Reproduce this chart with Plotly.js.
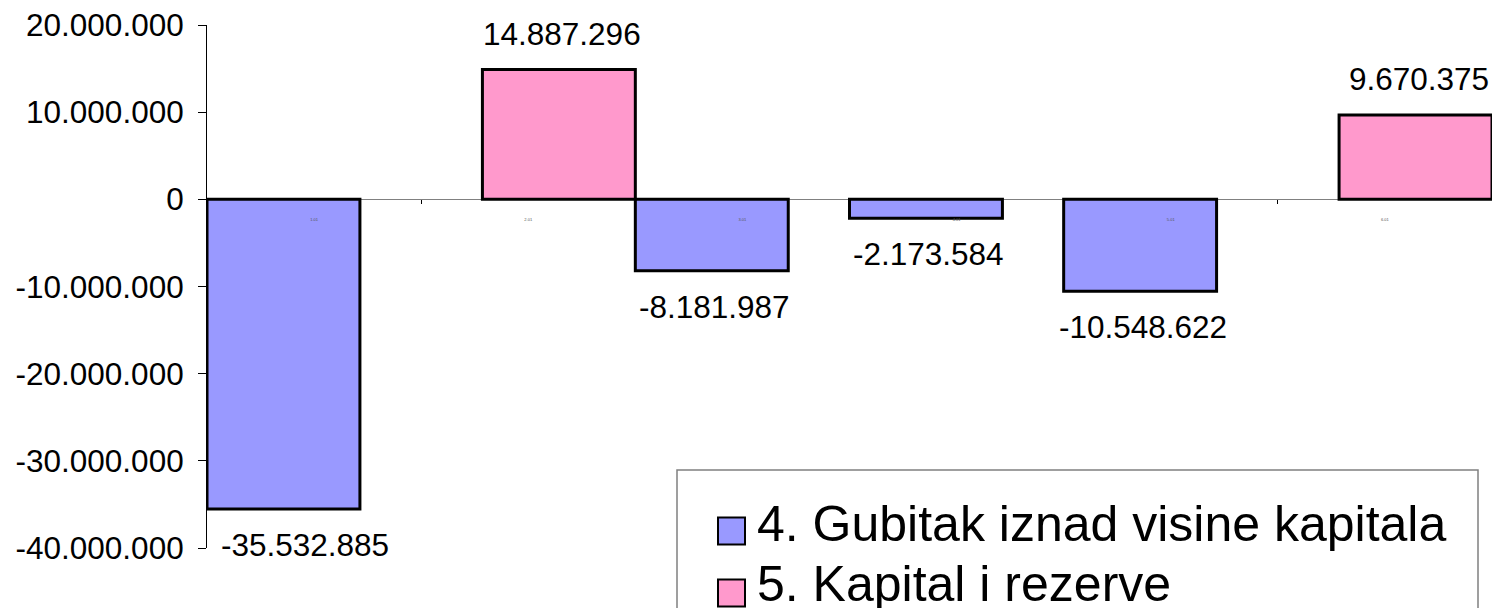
<!DOCTYPE html>
<html>
<head>
<meta charset="utf-8">
<script src="https://cdn.plot.ly/plotly-3.0.1.min.js"></script>
<style>
  html, body { margin: 0; padding: 0; background: #ffffff; }
  #chart { width: 1492px; height: 608px; }
</style>
</head>
<body>
<div id="chart"></div>
<script>
// ---- data ----
const categories = ['1.01', '2.01', '3.01', '4.01', '5.01', '6.01'];
const seriesNames = ['4. Gubitak iznad visine kapitala', '5. Kapital i rezerve'];
const gubitak = [-35532885, null, -8181987, -2173584, -10548622, null];
const kapital = [null, 14887296, null, null, null, 9670375];
const yTickVals = [-40000000, -30000000, -20000000, -10000000, 0, 10000000, 20000000];

// ---- helpers ----
function fmt(v) {
  const s = Math.abs(v).toString().replace(/\B(?=(\d{3})+(?!\d))/g, '.');
  return (v < 0 ? '-' : '') + s;
}
const FONT = 'Liberation Sans, Arial, sans-serif';
const L = 207, R = 1492, T = 25, B = 548;
const px = x => (x - L) / (R - L);
const py = y => (B - y) / (B - T);

const barW = 0.714;
const offBlue = -0.5;
const offPink = 0.5 - barW;

const traces = [
  {
    type: 'bar', name: seriesNames[0], x: categories, y: gubitak,
    width: barW, offset: offBlue,
    marker: { color: '#9999FF', line: { color: '#000000', width: 3 } },
    hoverinfo: 'skip', showlegend: false
  },
  {
    type: 'bar', name: seriesNames[1], x: categories, y: kapital,
    width: barW, offset: offPink,
    marker: { color: '#FF99CC', line: { color: '#000000', width: 3 } },
    hoverinfo: 'skip', showlegend: false
  }
];

const annotations = [];
[[gubitak, offBlue], [kapital, offPink]].forEach(([arr, off]) => {
  arr.forEach((v, i) => {
    if (v === null) return;
    annotations.push({
      x: i + off + barW / 2, y: v, xref: 'x', yref: 'y',
      text: fmt(v), showarrow: false,
      xanchor: 'center', yanchor: 'middle',
      xshift: i === 0 ? 22 : 3,
      yshift: v >= 0 ? 36 : -36,
      font: { family: FONT, size: 31.5, color: '#000000' }
    });
  });
});

// legend (drawn manually to match the large symbols)
const legRows = [
  { name: seriesNames[0], color: '#9999FF', sq: 531, ty: 524 },
  { name: seriesNames[1], color: '#FF99CC', sq: 593, ty: 584 }
];
const shapes = [
  {
    type: 'rect', xref: 'paper', yref: 'paper',
    x0: px(677), x1: px(1478), y0: py(660), y1: py(470),
    fillcolor: '#ffffff', line: { color: '#808080', width: 1.5 }, layer: 'above'
  }
];
legRows.forEach(r => {
  shapes.push({
    type: 'rect', xref: 'paper', yref: 'paper',
    x0: px(718), x1: px(745), y0: py(r.sq + 13.5), y1: py(r.sq - 13.5),
    fillcolor: r.color, line: { color: '#000000', width: 2 }, layer: 'above'
  });
  annotations.push({
    xref: 'paper', yref: 'paper', x: px(755), y: py(r.ty),
    xanchor: 'left', yanchor: 'middle', showarrow: false,
    text: r.name, font: { family: FONT, size: 50, color: '#000000' }
  });
});

const layout = {
  width: 1492, height: 608,
  margin: { l: L, r: 1492 - R, t: T, b: 608 - B, pad: 0 },
  paper_bgcolor: '#ffffff', plot_bgcolor: '#ffffff',
  barmode: 'overlay',
  showlegend: false,
  xaxis: {
    type: 'category', categoryorder: 'array', categoryarray: categories,
    anchor: 'free', position: 40 / 60,
    showline: false, showgrid: false, zeroline: false,
    ticks: 'outside', tickson: 'boundaries', ticklen: 4, tickcolor: '#000000', tickwidth: 1,
    tickfont: { family: FONT, size: 4, color: '#555555' },
    ticklabelstandoff: 17,
    range: [-0.5, 5.5], fixedrange: true, automargin: false,
    layer: 'above traces'
  },
  yaxis: {
    range: [-40000000, 20000000],
    tickvals: yTickVals, ticktext: yTickVals.map(fmt),
    showline: true, linecolor: '#000000', linewidth: 1,
    ticks: 'outside', ticklen: 8, tickcolor: '#000000', tickwidth: 1,
    ticklabelstandoff: 8,
    showgrid: false,
    zeroline: true, zerolinecolor: '#808080', zerolinewidth: 1.5,
    tickfont: { family: FONT, size: 31.5, color: '#000000' },
    fixedrange: true, automargin: false
  },
  annotations: annotations,
  shapes: shapes
};

Plotly.newPlot('chart', traces, layout, { staticPlot: true, displayModeBar: false });
</script>
</body>
</html>
